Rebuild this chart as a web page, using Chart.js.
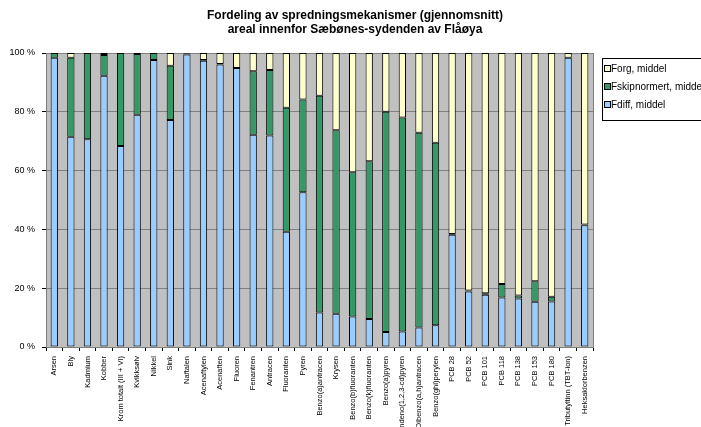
<!DOCTYPE html>
<html>
<head>
<meta charset="utf-8">
<script src="https://cdn.jsdelivr.net/npm/chart.js@4/dist/chart.umd.min.js"></script>
<style>
  body { margin: 0; background: #fff; }
  canvas { display: block; }
</style>
</head>
<body>
<canvas id="chart" width="701" height="427"></canvas>
<script>
// categories (stoffer)
const categories = [
    'Arsen', 'Bly', 'Kadmium', 'Kobber', 'Krom totalt (III + VI)', 'Kvikksølv', 'Nikkel', 'Sink',
    'Naftalen', 'Acenaftylen', 'Acenaften', 'Fluoren', 'Fenantren', 'Antracen', 'Fluoranten', 'Pyren',
    'Benzo(a)antracen', 'Krysen', 'Benzo(b)fluoranten', 'Benzo(k)fluoranten', 'Benzo(a)pyren',
    'Indeno(1,2,3-cd)pyren', 'Dibenzo(a,h)antracen', 'Benzo(ghi)perylen',
    'PCB 28', 'PCB 52', 'PCB 101', 'PCB 118', 'PCB 138', 'PCB 153', 'PCB 180',
    'Tributyltinn (TBT-ion)', 'Heksaklorbenzen'
];

// andeler i prosent
const fdiff = [98.4, 71.5, 70.7, 92.3, 68.4, 79.0, 97.6, 77.2, 99.5, 97.4, 96.1, 94.9, 72.2, 71.9, 39.2, 52.6,
    11.7, 11.3, 10.4, 9.5, 5.1, 5.3, 6.6, 7.4, 38.2, 18.9, 17.8, 16.8, 16.5, 15.4, 15.5, 98.4, 41.4];
const fskip = [1.6, 26.9, 29.3, 7.0, 31.6, 20.7, 2.4, 18.5, 0.3, 0.2, 0.2, 0, 21.6, 22.3, 42.2, 31.6,
    73.8, 62.4, 49.0, 53.7, 74.9, 72.8, 66.3, 62.1, 0.2, 0.3, 0.5, 4.6, 1.0, 7.0, 1.6, 0, 0.3];
const forg = [0, 1.6, 0, 0.7, 0, 0.3, 0, 4.3, 0.2, 2.4, 3.7, 5.1, 6.2, 5.8, 18.6, 15.8,
    14.5, 26.3, 40.6, 36.8, 20.0, 21.9, 27.1, 30.5, 61.6, 80.8, 81.7, 78.6, 82.5, 77.6, 82.9, 1.6, 58.3];

const yTicks = [0, 20, 40, 60, 80, 100];

const titleLines = ['Fordeling av spredningsmekanismer (gjennomsnitt)', 'areal innenfor Sæbønes-sydenden av Flåøya'];
const FONT = '"Liberation Sans", Arial, sans-serif';

// grå plottbakgrunn + ramme
const plotBg = {
    id: 'plotBg',
    beforeDraw(chart) {
        const { ctx, chartArea: a } = chart;
        ctx.save();
        ctx.fillStyle = '#c0c0c0';
        ctx.fillRect(a.left, a.top, a.right - a.left, a.bottom - a.top);
        ctx.restore();
    },
    beforeDatasetsDraw(chart) {
        const { ctx, chartArea: a } = chart;
        ctx.save();
        ctx.strokeStyle = '#808080';
        ctx.lineWidth = 1;
        ctx.strokeRect(Math.round(a.left) + 0.5, Math.round(a.top) + 0.5, Math.round(a.right - a.left), Math.round(a.bottom - a.top));
        ctx.restore();
    }
};

// tittel og forklaring tegnet som tekst
const titleAndLegend = {
    id: 'titleAndLegend',
    afterDraw(chart) {
        const ctx = chart.ctx;
        ctx.save();
        ctx.fillStyle = '#000';
        ctx.font = 'bold 12px ' + FONT;
        ctx.textAlign = 'center';
        ctx.textBaseline = 'middle';
        titleLines.forEach((t, i) => ctx.fillText(t, 355, 16 + i * 14));

        // forklaring
        ctx.strokeStyle = '#000';
        ctx.lineWidth = 1;
        ctx.strokeRect(602.5, 58.5, 130, 62);
        ctx.font = '10px ' + FONT;
        ctx.textAlign = 'left';
        const items = chart.data.datasets.slice().reverse();
        items.forEach((ds, i) => {
            const y = 69 + i * 18;
            ctx.fillStyle = ds.backgroundColor;
            ctx.fillRect(604.5, y - 3.5, 6, 6);
            ctx.strokeRect(604.5, y - 3.5, 6, 6);
            ctx.fillStyle = '#000';
            ctx.fillText(ds.label, 611, y);
        });
        ctx.restore();
    }
};

const barOpts = { borderColor: '#000', borderWidth: 1, borderSkipped: false, barPercentage: 0.44, categoryPercentage: 1 };

new Chart(document.getElementById('chart').getContext('2d'), {
    type: 'bar',
    data: {
        labels: categories,
        datasets: [
            { label: 'Fdiff, middel', data: fdiff, backgroundColor: '#99ccff', ...barOpts },
            { label: 'Fskipnormert, middel', data: fskip, backgroundColor: '#339966', ...barOpts },
            { label: 'Forg, middel', data: forg, backgroundColor: '#ffffcc', ...barOpts }
        ]
    },
    options: {
        responsive: false,
        animation: false,
        layout: { padding: { top: 53, right: 108, left: 0, bottom: 0 } },
        plugins: { legend: { display: false }, title: { display: false }, tooltip: { enabled: false } },
        scales: {
            x: {
                stacked: true,
                grid: { display: true, drawOnChartArea: false, drawTicks: true, tickLength: 4, tickColor: '#000', offset: true },
                border: { color: '#000' },
                ticks: { autoSkip: false, minRotation: 90, maxRotation: 90, color: '#000', padding: 5, font: { family: FONT, size: 7.5 } },
                afterFit: s => { s.height = 80; }
            },
            y: {
                stacked: true,
                min: 0,
                max: 100,
                afterBuildTicks: s => { s.ticks = yTicks.map(v => ({ value: v })); },
                grid: { color: '#808080', tickColor: '#000', tickLength: 4 },
                border: { color: '#000' },
                ticks: { color: '#000', padding: 7, font: { family: FONT, size: 9 }, callback: v => v + ' %' },
                afterFit: s => { s.width = 46; }
            }
        }
    },
    plugins: [plotBg, titleAndLegend]
});
</script>
</body>
</html>
